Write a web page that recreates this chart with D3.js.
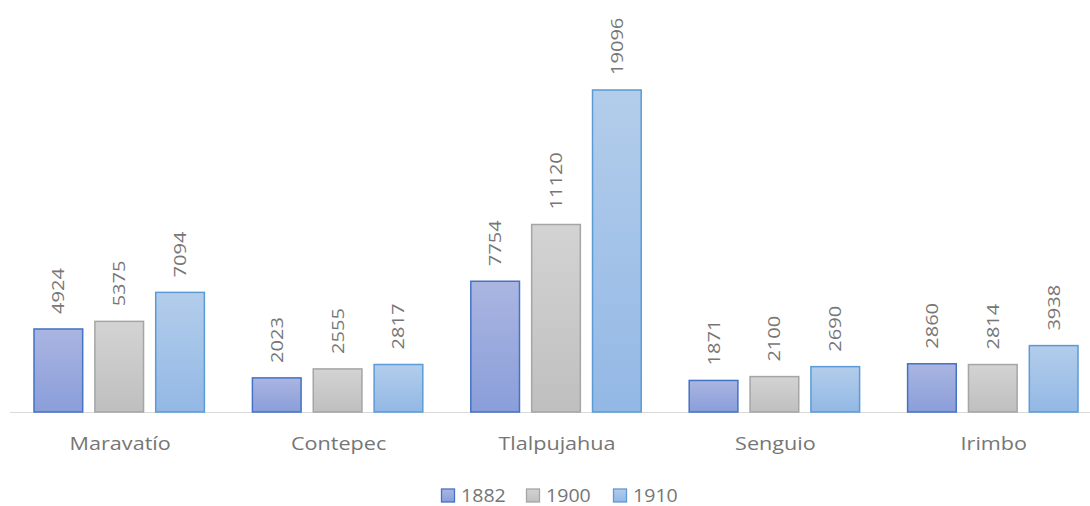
<!DOCTYPE html>
<meta charset="utf-8">
<script src="https://d3js.org/d3.v7.min.js"></script>
<style>
  body { margin: 0; background: #fff; }
  text { font-family: "Open Sans", sans-serif; fill: #767676; }
</style>
<div id="chart"></div>
<script>
// Data
var places = ["Maravatío", "Contepec", "Tlalpujahua", "Senguio", "Irimbo"];
var years = ["1882", "1900", "1910"];
var pop1882 = [4924, 2023, 7754, 1871, 2860];
var pop1900 = [5375, 2555, 11120, 2100, 2814];
var pop1910 = [7094, 2817, 19096, 2690, 3938];

var W = 1090, H = 506;
var margin = {top: 90, right: -12, bottom: 94, left: 10};
var width = W - margin.left - margin.right,
    height = H - margin.top - margin.bottom;

var svg = d3.select("#chart").append("svg")
    .attr("width", W).attr("height", H);

var defs = svg.append("defs");
var colors = [
  {top: "#aab5e1", bottom: "#8a9eda", stroke: "#4472c4"},
  {top: "#d3d3d3", bottom: "#bfbfbf", stroke: "#a5a5a5"},
  {top: "#b3cdeb", bottom: "#93b8e5", stroke: "#5b9bd5"}
];
colors.forEach(function(c, i) {
  var g = defs.append("linearGradient").attr("id", "grad" + i)
    .attr("x1", 0).attr("y1", 0).attr("x2", 0).attr("y2", 1);
  g.append("stop").attr("offset", "0%").attr("stop-color", c.top);
  g.append("stop").attr("offset", "100%").attr("stop-color", c.bottom);
});

var g = svg.append("g")
  .attr("transform", "translate(" + margin.left + "," + margin.top + ")");

var series = [pop1882, pop1900, pop1910];
var rows = places.map(function(p, i) {
  return {place: p, values: series.map(function(s, j) { return {year: j, value: s[i]}; })};
});

var x0 = d3.scaleBand().domain(places).range([0, width]).paddingInner(0).paddingOuter(0);
var x1 = d3.scaleBand().domain([0, 1, 2]).range([24, x0.bandwidth() - 24]).paddingInner(0.2);
var y = d3.scaleLinear().domain([0, 19096]).range([height, 0]);

// baseline
g.append("line")
  .attr("x1", 0).attr("x2", W).attr("y1", height + 0.5).attr("y2", height + 0.5)
  .attr("stroke", "#d9d9d9").attr("stroke-width", 1);

var groups = g.selectAll(".grp").data(rows).enter().append("g")
  .attr("transform", function(d) { return "translate(" + x0(d.place) + ",0)"; });

groups.selectAll("rect").data(function(d) { return d.values; }).enter().append("rect")
  .attr("x", function(d) { return x1(d.year); })
  .attr("y", function(d) { return y(d.value); })
  .attr("width", x1.bandwidth())
  .attr("height", function(d) { return height - y(d.value); })
  .attr("fill", function(d) { return "url(#grad" + d.year + ")"; })
  .attr("stroke", function(d) { return colors[d.year].stroke; })
  .attr("stroke-width", 1.5);

// value labels, rotated (glyphs stretched a bit, the original font is wide)
groups.selectAll(".lbl").data(function(d) { return d.values; }).enter().append("text")
  .attr("transform", function(d) {
    return "translate(" + (x1(d.year) + x1.bandwidth() / 2 + 6) + "," + (y(d.value) - 15) + ")rotate(-90)scale(1.18,1)";
  })
  .style("font-size", "17px")
  .text(function(d) { return d.value; });

// category labels
g.selectAll(".cat").data(places).enter().append("text")
  .attr("transform", function(d) {
    return "translate(" + (x0(d) + x0.bandwidth() / 2 + 1) + "," + (height + 38) + ")scale(1.2,1)";
  })
  .attr("text-anchor", "middle")
  .style("font-size", "18px")
  .text(function(d) { return d; });

// legend
var legend = svg.append("g").attr("transform", "translate(441,496)");
var lx = [0, 85, 172];
years.forEach(function(yr, i) {
  var it = legend.append("g").attr("transform", "translate(" + lx[i] + ",0)");
  it.append("rect").attr("x", 0.5).attr("y", -7).attr("width", 13).attr("height", 13)
    .attr("fill", "url(#grad" + i + ")").attr("stroke", colors[i].stroke).attr("stroke-width", 1.3);
  it.append("text").attr("transform", "translate(20,6)scale(1.12,1)")
    .style("font-size", "17.5px").text(yr);
});
</script>
